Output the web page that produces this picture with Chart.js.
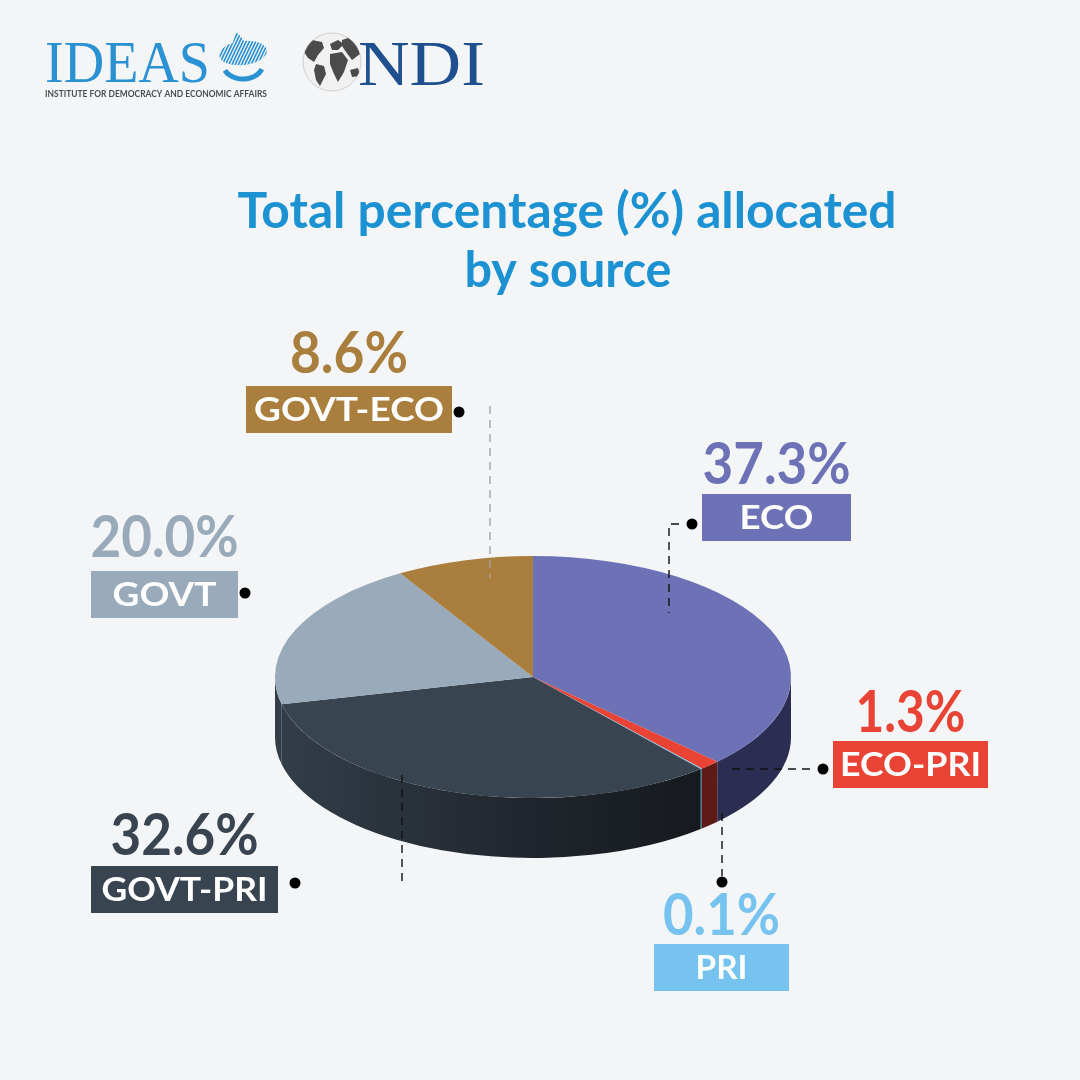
<!DOCTYPE html>
<html lang="en">
<head>
    <meta charset="UTF-8">
    <title>Total percentage allocated by source</title>
    <script src="https://cdn.jsdelivr.net/npm/chart.js"></script>
    <style>
        html, body { margin: 0; padding: 0; background: #f4f5f7; }
        #wrap { width: 1080px; height: 1080px; }
    </style>
</head>
<body>
    <div id="wrap"><canvas id="chart" width="1080" height="1080"></canvas></div>

    <script>
        // data
        const sources = ['ECO', 'ECO-PRI', 'PRI', 'GOVT-PRI', 'GOVT', 'GOVT-ECO'];
        const shares = [37.3, 1.3, 0.1, 32.6, 20.0, 8.6];
        const titleLines = ['Total percentage (%) allocated', 'by source'];

        // styles
        const sliceColors = ['#6d72b6', '#e84335', '#75c3ee', '#384450', '#99aaba', '#aa7e3c'];
        const sideColors = ['#2b2d52', '#5c1b15', '#3d7391', null, '#333e49', '#5e4520'];
        const TILT = 121 / 258;
        const DEPTH = 60;

        // callout layout: box [x, y, w], number baseline, fitted widths, dot, leader
        const callouts = [
            { box: [702, 494, 149], numY: 484, numW: 148, textW: 74, dot: [692, 524], leader: [[679, 524], [669, 524], [669, 613]], lc: '#111' },
            { box: [833, 741, 155], numY: 732, numW: 110, textW: 141, dot: [823, 769], leader: [[732, 769], [815, 769]], lc: '#111' },
            { box: [654, 944, 135], numY: 935, numW: 117, textW: 52, dot: [722, 882], leader: [[722, 813], [722, 876]], lc: '#111' },
            { box: [91, 866, 187], numY: 855, numW: 148, textW: 166, dot: [295, 883], leader: [[402, 775], [402, 882]], lc: '#111' },
            { box: [91, 571, 147], numY: 557, numW: 148, textW: 104, dot: [245, 593], leader: null },
            { box: [246, 386, 206], numY: 373, numW: 118, textW: 190, dot: [459, 412], leader: [[490, 406], [490, 578]], lc: '#a3a3a3' }
        ];

        function fitText(ctx, text, cx, baseline, font, width, color) {
            ctx.font = font;
            const w = ctx.measureText(text).width;
            ctx.save();
            ctx.translate(cx, baseline);
            ctx.scale(width / w, 1);
            ctx.textAlign = 'center';
            ctx.textBaseline = 'alphabetic';
            ctx.fillStyle = color;
            ctx.fillText(text, 0, 0);
            ctx.restore();
        }

        function blob(ctx, pts) {
            ctx.beginPath();
            pts.forEach((p, k) => k ? ctx.lineTo(p[0], p[1]) : ctx.moveTo(p[0], p[1]));
            ctx.closePath();
            ctx.fill();
        }

        function drawLogos(ctx) {
            // IDEAS
            ctx.save();
            ctx.font = '400 59px "Liberation Serif"';
            let w = ctx.measureText('IDEAS').width;
            ctx.translate(45, 82);
            ctx.scale(165 / w, 1);
            ctx.fillStyle = '#2a91d2';
            ctx.fillText('IDEAS', 0, 0);
            ctx.restore();

            // bird mark
            ctx.save();
            ctx.beginPath();
            ctx.ellipse(243, 53, 24, 12, -0.12, 0, Math.PI * 2);
            ctx.moveTo(236, 32);
            ctx.quadraticCurveTo(246, 40, 244, 46);
            ctx.lineTo(232, 46);
            ctx.closePath();
            ctx.clip();
            ctx.strokeStyle = '#2a91d2';
            ctx.lineWidth = 1.6;
            for (let k = -40; k < 60; k += 3.2) {
                ctx.beginPath();
                ctx.moveTo(215 + k, 70);
                ctx.lineTo(235 + k, 28);
                ctx.stroke();
            }
            ctx.restore();
            ctx.save();
            ctx.strokeStyle = '#2a91d2';
            ctx.lineWidth = 5;
            ctx.beginPath();
            ctx.ellipse(243, 64, 20, 15, 0, 0.35, 2.7);
            ctx.stroke();
            ctx.restore();

            ctx.save();
            ctx.font = '700 10px Lato';
            w = ctx.measureText('INSTITUTE FOR DEMOCRACY AND ECONOMIC AFFAIRS').width;
            ctx.translate(45, 97);
            ctx.scale(222 / w, 1);
            ctx.fillStyle = '#4d4d4d';
            ctx.fillText('INSTITUTE FOR DEMOCRACY AND ECONOMIC AFFAIRS', 0, 0);
            ctx.restore();

            // globe
            ctx.save();
            ctx.beginPath();
            ctx.arc(332, 62, 29, 0, Math.PI * 2);
            ctx.fillStyle = '#f1f1f1';
            ctx.fill();
            ctx.strokeStyle = '#d0d0d0';
            ctx.lineWidth = 1;
            ctx.stroke();
            ctx.clip();
            ctx.fillStyle = '#4b4b4b';
            blob(ctx, [[304, 44], [312, 40], [322, 42], [324, 48], [318, 55], [314, 62], [308, 58], [304, 52]]);
            blob(ctx, [[316, 64], [324, 66], [326, 74], [320, 86], [316, 80], [314, 70]]);
            blob(ctx, [[330, 44], [338, 40], [344, 44], [338, 50], [332, 50]]);
            blob(ctx, [[330, 54], [342, 52], [348, 60], [344, 72], [338, 82], [334, 74], [330, 64]]);
            blob(ctx, [[342, 40], [354, 36], [362, 44], [360, 54], [352, 60], [346, 52], [342, 46]]);
            blob(ctx, [[350, 70], [358, 68], [360, 76], [352, 77]]);
            ctx.restore();

            // NDI
            ctx.save();
            ctx.font = '400 63px "Liberation Serif"';
            w = ctx.measureText('NDI').width;
            ctx.translate(358, 85);
            ctx.scale(127 / w, 1);
            ctx.fillStyle = '#1e4f8f';
            ctx.fillText('NDI', 0, 0);
            ctx.restore();
        }

        const pagePlugin = {
            id: 'page',
            beforeDraw(chart) {
                const ctx = chart.ctx;
                ctx.save();
                ctx.fillStyle = '#f4f5f7';
                ctx.fillRect(0, 0, chart.width, chart.height);
                ctx.restore();
                drawLogos(ctx);
                fitText(ctx, titleLines[0], 567, 228, '700 49px Lato', 659, '#1c92d3');
                fitText(ctx, titleLines[1], 568, 287, '700 49px Lato', 207, '#1c92d3');
            }
        };

        const tiltPlugin = {
            id: 'tilt',
            beforeDatasetsDraw(chart) {
                const ctx = chart.ctx;
                const meta = chart.getDatasetMeta(0);
                const first = meta.data[0];
                const cx = first.x, cy = first.y;
                meta.data.forEach((arc, i) => {
                    const p = arc.getProps(['startAngle', 'endAngle', 'outerRadius'], true);
                    const a1 = Math.max(p.startAngle, 0);
                    const a2 = Math.min(p.endAngle, Math.PI);
                    if (a2 <= a1) return;
                    const rx = p.outerRadius, ry = p.outerRadius * TILT;
                    ctx.beginPath();
                    ctx.ellipse(cx, cy, rx, ry, 0, a1, a2);
                    ctx.ellipse(cx, cy + DEPTH, rx, ry, 0, a2, a1, true);
                    ctx.closePath();
                    if (sideColors[i]) {
                        ctx.fillStyle = sideColors[i];
                    } else {
                        const g = ctx.createLinearGradient(cx - rx, 0, cx + rx * 0.75, 0);
                        g.addColorStop(0, '#333e49');
                        g.addColorStop(0.5, '#222830');
                        g.addColorStop(1, '#14181c');
                        ctx.fillStyle = g;
                    }
                    ctx.fill();
                });
                ctx.save();
                ctx.translate(cx, cy);
                ctx.scale(1, TILT);
                ctx.translate(-cx, -cy);
            },
            afterDatasetsDraw(chart) {
                chart.ctx.restore();
            }
        };

        const calloutPlugin = {
            id: 'callouts',
            afterDraw(chart) {
                const ctx = chart.ctx;
                callouts.forEach((c, i) => {
                    if (c.leader) {
                        ctx.save();
                        ctx.strokeStyle = c.lc;
                        ctx.lineWidth = 1.4;
                        ctx.setLineDash([8, 6]);
                        ctx.beginPath();
                        c.leader.forEach((pt, k) => k ? ctx.lineTo(pt[0], pt[1]) : ctx.moveTo(pt[0], pt[1]));
                        ctx.stroke();
                        ctx.restore();
                    }
                    ctx.beginPath();
                    ctx.arc(c.dot[0], c.dot[1], 5.5, 0, Math.PI * 2);
                    ctx.fillStyle = '#000';
                    ctx.fill();

                    const [bx, by, bw] = c.box;
                    ctx.fillStyle = sliceColors[i];
                    ctx.fillRect(bx, by, bw, 47);
                    fitText(ctx, sources[i], bx + bw / 2, by + 35, '700 33px Lato', c.textW, '#ffffff');
                    fitText(ctx, shares[i].toFixed(1) + '%', bx + bw / 2, c.numY, '700 57px Lato', c.numW, sliceColors[i]);
                });
            }
        };

        new Chart(document.getElementById('chart').getContext('2d'), {
            type: 'pie',
            data: {
                labels: sources,
                datasets: [{
                    data: shares,
                    backgroundColor: sliceColors,
                    borderWidth: 0
                }]
            },
            options: {
                responsive: false,
                devicePixelRatio: 1,
                animation: false,
                events: [],
                layout: { padding: { left: 275, right: 289, top: 419, bottom: 145 } },
                plugins: {
                    legend: { display: false },
                    tooltip: { enabled: false }
                }
            },
            plugins: [pagePlugin, tiltPlugin, calloutPlugin]
        });
    </script>
</body>
</html>
